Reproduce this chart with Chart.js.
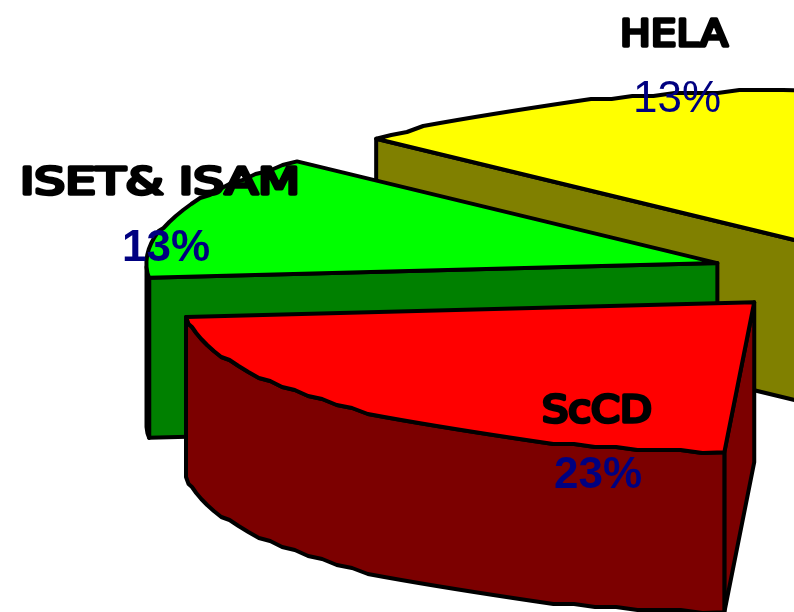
<!DOCTYPE html>
<html lang="en">
<head>
<meta charset="UTF-8">
<title>Pie</title>
<script src="https://cdn.jsdelivr.net/npm/chart.js"></script>
<style>
  html, body { margin: 0; padding: 0; background: #fff; overflow: hidden; }
  canvas { display: block; }
</style>
</head>
<body>
<canvas id="myChart" width="794" height="612"></canvas>
<script>
// slice sizes measured on the picture, printed rounded; the rest of the pie lies outside the crop
const categories = ['ScCD', 'ISET& ISAM', 'HELA', 'Autres'];
const values = [22.6, 13.4, 13.4, 50.6];
const topColors = ['#ff0000', '#00ff00', '#ffff00', '#0000ff'];
const wallColors = ['#7c0000', '#008000', '#808000', '#000080'];

// 3D look
const centerX = 853, centerY = 275, squash = 0.263, depth = 160, explode = 143;
const line = 4;

// label placement: [name x, name y, name width, percent x, percent y, bold]
const labelSpots = [
    [597, 422, 110, 598, 488, true],
    [160, 194, 280, 166, 261, true],
    [674, 46, 108, 677, 112, false]
];

function outline(ctx, pts, close) {
    ctx.beginPath();
    pts.forEach((p, i) => i ? ctx.lineTo(p[0], p[1]) : ctx.moveTo(p[0], p[1]));
    if (close) ctx.closePath();
}

function wall(ctx, pts, color) {
    const all = pts.concat(pts.slice().reverse().map(p => [p[0], p[1] + depth]));
    outline(ctx, all, true);
    ctx.fillStyle = color;
    ctx.fill();
    ctx.stroke();
}

const pie3d = {
    id: 'pie3d',
    beforeDatasetDraw(chart, args) {
        const ctx = chart.ctx;
        const arcs = args.meta.data;
        ctx.save();
        ctx.lineWidth = line;
        ctx.lineJoin = 'round';
        ctx.strokeStyle = '#000';
        // back slices first, front slice last
        for (let i = arcs.length - 1; i >= 0; i--) {
            const arc = arcs[i];
            const mid = (arc.startAngle + arc.endAngle) / 2;
            const ax = centerX + Math.cos(mid) * explode;
            const ay = centerY + Math.sin(mid) * explode * squash;
            const r = arc.outerRadius;
            const at = a => [ax + Math.cos(a) * r, ay + Math.sin(a) * r * squash];
            const apex = [ax, ay];

            // rim as a coarse polyline, like the original
            const rim = [];
            const steps = Math.max(2, Math.round((arc.endAngle - arc.startAngle) / 0.038));
            for (let s = 0; s <= steps; s++) {
                const a = arc.startAngle + (arc.endAngle - arc.startAngle) * s / steps;
                const p = at(a);
                rim.push([a, p[0], (s === 0 || s === steps) ? p[1] : Math.round(p[1] / 3) * 3]);
            }
            const rimPts = rim.map(p => [p[1], p[2]]);
            const first = rimPts[0], last = rimPts[rimPts.length - 1];

            // only faces that look downwards show
            if (last[0] > ax) wall(ctx, [last, apex], wallColors[i]);
            if (first[0] < ax) wall(ctx, [apex, first], wallColors[i]);
            const front = rim.filter(p => Math.sin(p[0]) > 0).map(p => [p[1], p[2]]);
            if (front.length > 1) wall(ctx, front, wallColors[i]);

            // top face through the arc element, squashed
            ctx.save();
            ctx.translate(ax, ay);
            ctx.scale(1, squash);
            ctx.translate(-arc.x, -arc.y);
            arc.draw(ctx);
            ctx.restore();
            outline(ctx, [apex].concat(rimPts), true);
            ctx.stroke();
        }
        ctx.restore();
        return false;
    },
    afterDraw(chart) {
        const ctx = chart.ctx;
        ctx.save();
        ctx.textAlign = 'center';
        ctx.textBaseline = 'alphabetic';
        labelSpots.forEach((s, i) => {
            // names are stretched to the width they have in the picture
            ctx.save();
            ctx.font = '38px "DejaVu Sans"';
            ctx.lineJoin = 'round';
            ctx.lineCap = 'round';
            ctx.lineWidth = 3.5;
            ctx.fillStyle = '#000';
            ctx.strokeStyle = '#000';
            ctx.translate(s[0], s[1]);
            ctx.scale(s[2] / ctx.measureText(categories[i]).width, 1);
            ctx.fillText(categories[i], 0, 0);
            ctx.strokeText(categories[i], 0, 0);
            ctx.restore();
            ctx.font = (s[5] ? 'bold ' : '') + '44px "Liberation Sans"';
            ctx.fillStyle = '#000080';
            ctx.fillText(Math.round(values[i]) + '%', s[3], s[4]);
        });
        ctx.restore();
    }
};

new Chart(document.getElementById('myChart').getContext('2d'), {
    type: 'pie',
    data: {
        labels: categories,
        datasets: [{
            data: values,
            backgroundColor: topColors,
            borderWidth: 0,
            clip: false
        }]
    },
    options: {
        responsive: false,
        animation: false,
        rotation: 183,
        radius: 571,
        plugins: { legend: { display: false }, tooltip: { enabled: false } }
    },
    plugins: [pie3d]
});
</script>
</body>
</html>
